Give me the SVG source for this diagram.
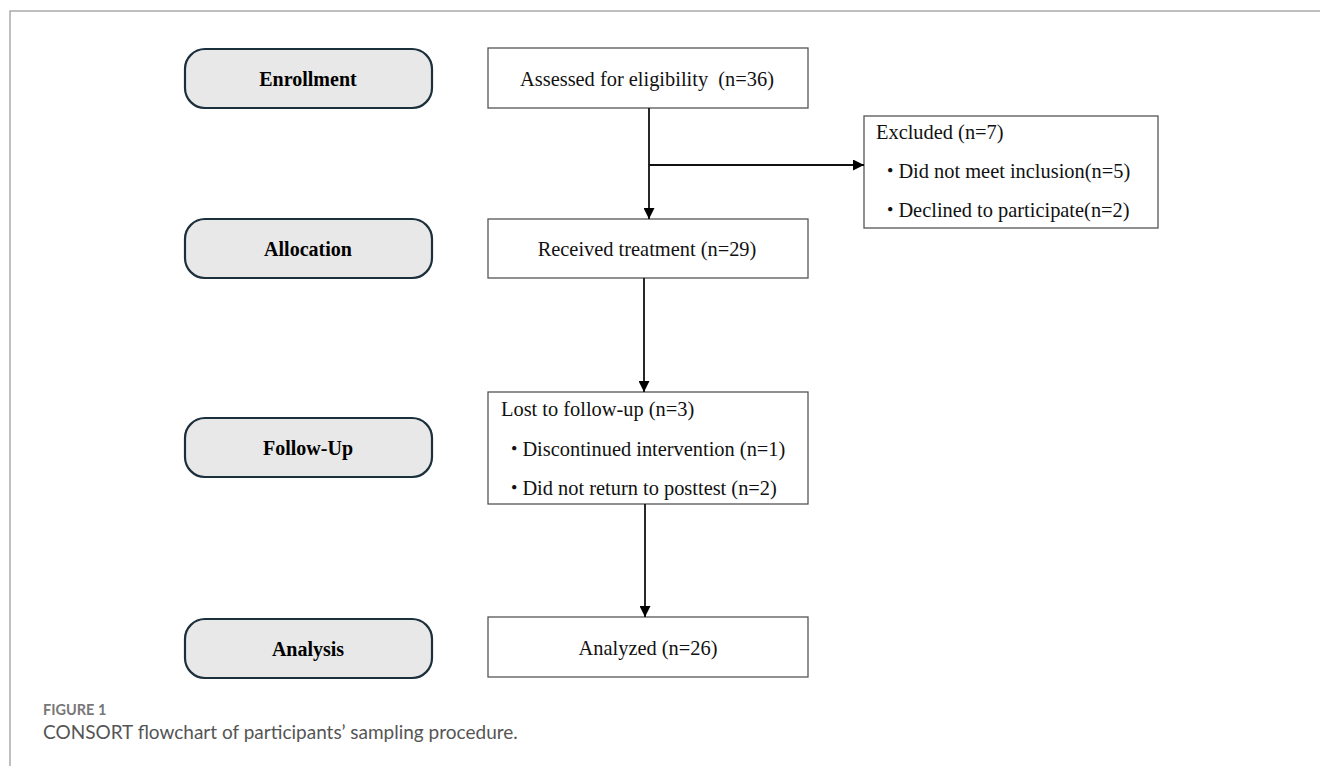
<svg xmlns="http://www.w3.org/2000/svg" width="1320" height="766" viewBox="0 0 1320 766">
<defs>
<style>
.pill{fill:#e8e8e8;stroke:#1b2f3c;stroke-width:2.2}
.pt{font-family:"Liberation Serif","Times New Roman",serif;font-weight:bold;font-size:20px;fill:#000;text-anchor:middle}
.box{fill:#fff;stroke:#555;stroke-width:1.3}
.bt{font-family:"Liberation Serif","Times New Roman",serif;font-size:20.4px;fill:#111}
.dot{font-family:"Noto Sans CJK JP","Noto Sans CJK SC",sans-serif}
.c{text-anchor:middle}
.ln{stroke:#111;stroke-width:1.8;fill:none}
.cap{font-family:Lato,"Open Sans",sans-serif}
</style>
<marker id="ah" viewBox="0 0 10 10" refX="10" refY="5" markerWidth="11" markerHeight="11" orient="auto" markerUnits="userSpaceOnUse">
<path d="M0,0 L10,5 L0,10 z" fill="#000"/>
</marker>
</defs>
<rect width="1320" height="766" fill="#fff"/>
<path d="M10,766 V11 H1320" fill="none" stroke="#aaa" stroke-width="1.5"/>

<g id="enrollment"><rect class="pill" x="185" y="49" width="247" height="59" rx="20"/><text class="pt" x="308" y="86">Enrollment</text></g>
<g id="allocation"><rect class="pill" x="185" y="219" width="247" height="59" rx="20"/><text class="pt" x="308" y="256">Allocation</text></g>
<g id="followup"><rect class="pill" x="185" y="418" width="247" height="59" rx="20"/><text class="pt" x="308" y="455">Follow-Up</text></g>
<g id="analysis"><rect class="pill" x="185" y="619" width="247" height="59" rx="20"/><text class="pt" x="308" y="656">Analysis</text></g>

<g id="assessed"><rect class="box" x="488" y="48" width="320" height="60"/><text class="bt c" x="647" y="86" xml:space="preserve">Assessed for eligibility  (n=36)</text></g>
<g id="excluded"><rect class="box" x="864" y="116" width="294" height="112"/>
<text class="bt" x="876" y="139">Excluded (n=7)</text>
<text class="bt" x="880" y="178"><tspan class="dot">・</tspan><tspan dx="-2">Did not meet inclusion(n=5)</tspan></text>
<text class="bt" x="880" y="217"><tspan class="dot">・</tspan><tspan dx="-2">Declined to participate(n=2)</tspan></text></g>
<g id="received"><rect class="box" x="488" y="219" width="320" height="59"/><text class="bt c" x="647" y="256">Received treatment (n=29)</text></g>
<g id="lost"><rect class="box" x="488" y="392" width="320" height="112"/>
<text class="bt" x="501" y="416">Lost to follow-up (n=3)</text>
<text class="bt" x="504" y="456"><tspan class="dot">・</tspan><tspan dx="-2">Discontinued intervention (n=1)</tspan></text>
<text class="bt" x="504" y="495"><tspan class="dot">・</tspan><tspan dx="-2">Did not return to posttest (n=2)</tspan></text></g>
<g id="analyzed"><rect class="box" x="488" y="617" width="320" height="60"/><text class="bt c" x="648" y="655">Analyzed (n=26)</text></g>

<g id="connectors">
<line class="ln" x1="649" y1="108" x2="649" y2="219" marker-end="url(#ah)"/>
<line class="ln" x1="649" y1="165" x2="864" y2="165" stroke-width="1.4" marker-end="url(#ah)"/>
<line class="ln" x1="644" y1="278" x2="644" y2="392" marker-end="url(#ah)"/>
<line class="ln" x1="645" y1="504" x2="645" y2="617" marker-end="url(#ah)"/>
</g>

<g id="caption">
<text class="cap" x="43" y="715" font-size="14.5" font-weight="bold" fill="#777">FIGURE 1</text>
<text class="cap" x="43" y="739" font-size="19" fill="#555">CONSORT flowchart of participants’ sampling procedure.</text>
</g>
</svg>
